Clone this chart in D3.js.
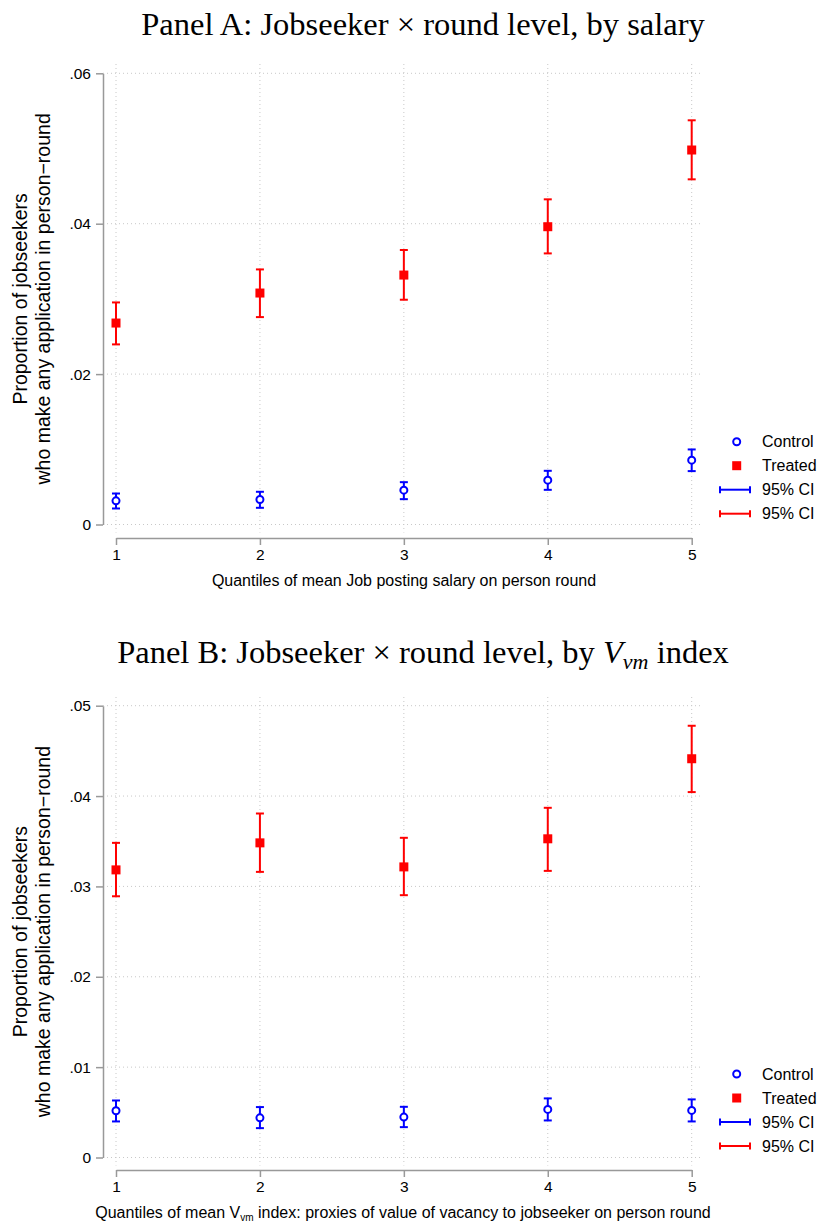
<!DOCTYPE html>
<html><head><meta charset="utf-8">
<script src="https://cdn.jsdelivr.net/npm/d3@7"></script>
<style>body{margin:0;background:#fff}svg{display:block}</style>
</head><body>
<svg id="chart" width="820" height="1226"></svg>
<script>
// ---------- data ----------
const quantiles = [1, 2, 3, 4, 5];

// Panel A: by salary
const aControl   = [0.00315, 0.00333, 0.00457, 0.00590, 0.00856];
const aControlLo = [0.00213, 0.00222, 0.00337, 0.00461, 0.00710];
const aControlHi = [0.00412, 0.00435, 0.00563, 0.00714, 0.00998];
const aTreated   = [0.02679, 0.03078, 0.03317, 0.03960, 0.04980];
const aTreatedLo = [0.02395, 0.02758, 0.02989, 0.03605, 0.04590];
const aTreatedHi = [0.02953, 0.03392, 0.03650, 0.04324, 0.05375];
const aYTicks = [0, 0.02, 0.04, 0.06];

// Panel B: by V_vm index
const bControl   = [0.00517, 0.00439, 0.00447, 0.00532, 0.00521];
const bControlLo = [0.00399, 0.00325, 0.00336, 0.00410, 0.00399];
const bControlHi = [0.00631, 0.00558, 0.00561, 0.00654, 0.00643];
const bTreated   = [0.03183, 0.03482, 0.03216, 0.03527, 0.04413];
const bTreatedLo = [0.02891, 0.03161, 0.02903, 0.03172, 0.04044];
const bTreatedHi = [0.03482, 0.03807, 0.03538, 0.03870, 0.04778];
const bYTicks = [0, 0.01, 0.02, 0.03, 0.04, 0.05];

const legendLabels = ["Control", "Treated", "95% CI", "95% CI"];
const yTitleLines = ["Proportion of jobseekers", "who make any application in person\u2212round"];

// ---------- drawing ----------
const svg = d3.select("#chart");
const BLUE = "#0000ff", RED = "#ff0000", AXIS = "#999", GRID = "#c8c8c8";
const SANS = "'Liberation Sans', Arial, Helvetica, sans-serif";
const SERIF = "'Liberation Serif', 'Times New Roman', serif";
const fmt = d => d === 0 ? "0" : d3.format(".2f")(d).replace(/^0/, "");

function drawPanel(o) {
  const g = svg.append("g");
  const x = d3.scaleLinear().domain([1, 5]).range([116, 691.7]);
  const y = d3.scaleLinear().domain([0, o.yMax]).range([o.y0, o.yTop]);
  const plotL = 103, plotR = 702;

  // title
  const t = g.append("text").attr("x", 423).attr("y", o.titleY)
    .attr("text-anchor", "middle").attr("font-family", SERIF).attr("font-size", 32.5)
    .attr("fill", "#000");
  o.title(t);

  // gridlines horizontal
  g.append("g").selectAll("line").data(o.yTicks).join("line")
    .attr("x1", plotL).attr("x2", plotR)
    .attr("y1", d => y(d)).attr("y2", d => y(d))
    .attr("stroke", GRID).attr("stroke-width", 1).attr("stroke-dasharray", "1,3");
  // gridlines vertical
  g.append("g").selectAll("line").data(quantiles).join("line")
    .attr("x1", d => x(d)).attr("x2", d => x(d))
    .attr("y1", o.plotTop).attr("y2", o.y0 + 8)
    .attr("stroke", GRID).attr("stroke-width", 1).attr("stroke-dasharray", "1,3");

  // y axis
  const ya = g.append("g").attr("transform", `translate(${plotL},0)`)
    .call(d3.axisLeft(y).tickValues(o.yTicks).tickFormat(fmt).tickSize(7).tickSizeOuter(0).tickPadding(5));
  ya.select(".domain").attr("stroke", AXIS).attr("stroke-width", 1.5);
  ya.selectAll(".tick line").attr("stroke", AXIS).attr("stroke-width", 1.5);
  ya.selectAll(".tick text").attr("font-family", SANS).attr("font-size", 15.5).attr("fill", "#000");

  // x axis
  const xa = g.append("g").attr("transform", `translate(0,${o.xAxisY})`)
    .call(d3.axisBottom(x).tickValues(quantiles).tickFormat(d3.format("d")).tickSize(7).tickSizeOuter(0).tickPadding(4));
  xa.select(".domain").attr("stroke", AXIS).attr("stroke-width", 1.5);
  xa.selectAll(".tick line").attr("stroke", AXIS).attr("stroke-width", 1.5);
  xa.selectAll(".tick text").attr("font-family", SANS).attr("font-size", 15.5).attr("fill", "#000");

  // y title
  const yt = g.append("text").attr("transform", `translate(27,${(o.y0 + o.yTop) / 2}) rotate(-90)`)
    .attr("text-anchor", "middle").attr("font-family", SANS).attr("font-size", 19.5).attr("fill", "#000");
  yTitleLines.forEach((l, i) => yt.append("tspan").attr("x", 0).attr("dy", i === 0 ? 0 : 23).text(l));

  // x title
  const xt = g.append("text").attr("x", o.xTitleX).attr("y", o.xAxisY + 48)
    .attr("text-anchor", "middle").attr("font-family", SANS).attr("font-size", 16).attr("fill", "#000");
  o.xTitle(xt);

  // series
  const series = [
    {v: o.control, lo: o.controlLo, hi: o.controlHi, c: BLUE, shape: "circle"},
    {v: o.treated, lo: o.treatedLo, hi: o.treatedHi, c: RED, shape: "square"}
  ];
  series.forEach(s => {
    const sg = g.append("g");
    const rows = quantiles.map((q, i) => ({q, v: s.v[i], lo: s.lo[i], hi: s.hi[i]}));
    sg.selectAll(".bar").data(rows).join("line")
      .attr("x1", d => x(d.q)).attr("x2", d => x(d.q))
      .attr("y1", d => y(d.lo)).attr("y2", d => y(d.hi))
      .attr("stroke", s.c).attr("stroke-width", 2);
    ["lo", "hi"].forEach(k => {
      sg.selectAll(".cap" + k).data(rows).join("line")
        .attr("x1", d => x(d.q) - 4).attr("x2", d => x(d.q) + 4)
        .attr("y1", d => y(d[k])).attr("y2", d => y(d[k]))
        .attr("stroke", s.c).attr("stroke-width", 2);
    });
    if (s.shape === "circle") {
      sg.selectAll("circle").data(rows).join("circle")
        .attr("cx", d => x(d.q)).attr("cy", d => y(d.v)).attr("r", 3.5)
        .attr("fill", "#fff").attr("stroke", s.c).attr("stroke-width", 2);
    } else {
      sg.selectAll("rect").data(rows).join("rect")
        .attr("x", d => x(d.q) - 4.5).attr("y", d => y(d.v) - 4.5)
        .attr("width", 9).attr("height", 9).attr("fill", s.c);
    }
  });

  // legend
  const lg = g.append("g");
  const ly = o.legendY;
  lg.append("circle").attr("cx", 736.7).attr("cy", ly).attr("r", 3.5)
    .attr("fill", "#fff").attr("stroke", BLUE).attr("stroke-width", 2);
  lg.append("rect").attr("x", 732.2).attr("y", ly + 24 - 4.5).attr("width", 9).attr("height", 9).attr("fill", RED);
  [BLUE, RED].forEach((c, i) => {
    const yy = ly + 48 + i * 24;
    lg.append("line").attr("x1", 720).attr("x2", 750).attr("y1", yy).attr("y2", yy).attr("stroke", c).attr("stroke-width", 2);
    lg.append("line").attr("x1", 720).attr("x2", 720).attr("y1", yy - 3.5).attr("y2", yy + 3.5).attr("stroke", c).attr("stroke-width", 2);
    lg.append("line").attr("x1", 750).attr("x2", 750).attr("y1", yy - 3.5).attr("y2", yy + 3.5).attr("stroke", c).attr("stroke-width", 2);
  });
  lg.selectAll("text").data(legendLabels).join("text")
    .attr("x", 762).attr("y", (d, i) => ly + i * 24).attr("dy", "0.35em")
    .attr("font-family", SANS).attr("font-size", 16).attr("fill", "#000").text(d => d);
}

drawPanel({
  yMax: 0.06, y0: 524.5, yTop: 73.3, plotTop: 64, xAxisY: 538, yTicks: aYTicks,
  titleY: 35, xTitleX: 404, legendY: 441.7,
  control: aControl, controlLo: aControlLo, controlHi: aControlHi,
  treated: aTreated, treatedLo: aTreatedLo, treatedHi: aTreatedHi,
  title: t => t.text("Panel A: Jobseeker \u00d7 round level, by salary"),
  xTitle: t => t.text("Quantiles of mean Job posting salary on person round")
});

drawPanel({
  yMax: 0.05, y0: 1157.5, yTop: 705.7, plotTop: 697, xAxisY: 1170, yTicks: bYTicks,
  titleY: 663, xTitleX: 403, legendY: 1074,
  control: bControl, controlLo: bControlLo, controlHi: bControlHi,
  treated: bTreated, treatedLo: bTreatedLo, treatedHi: bTreatedHi,
  title: t => {
    t.append("tspan").text("Panel B: Jobseeker \u00d7 round level, by ");
    t.append("tspan").attr("font-style", "italic").text("V");
    t.append("tspan").attr("font-style", "italic").attr("font-size", 22).attr("dy", 6).text("vm");
    t.append("tspan").attr("dy", -6).text(" index");
  },
  xTitle: t => {
    t.append("tspan").text("Quantiles of mean V");
    t.append("tspan").attr("font-size", 10).attr("dy", 3).text("vm");
    t.append("tspan").attr("dy", -3).text(" index: proxies of value of vacancy to jobseeker on person round");
  }
});
</script>
</body></html>
